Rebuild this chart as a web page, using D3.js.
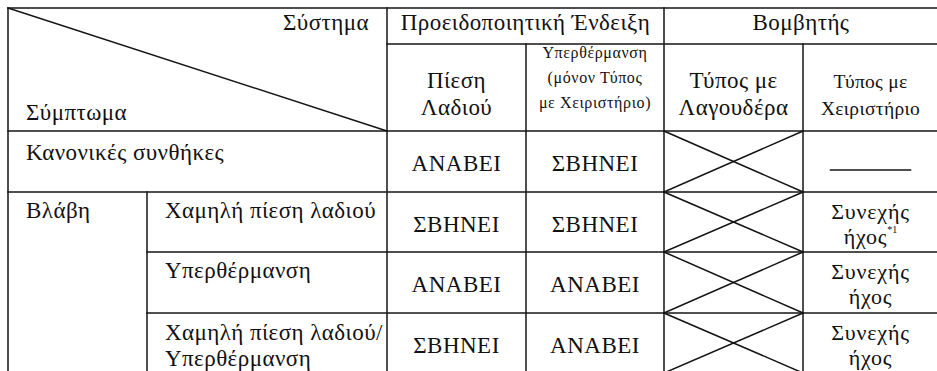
<!DOCTYPE html>
<html>
<head>
<meta charset="utf-8">
<script src="https://cdn.jsdelivr.net/npm/d3@7"></script>
<style>
  html, body { margin: 0; padding: 0; background: #fff; }
  svg { display: block; }
</style>
</head>
<body>
<svg id="chart" width="937" height="371"></svg>
<script>
// ---------- data ----------
const systemLabel = "Σύστημα";
const symptomLabel = "Σύμπτωμα";
const groupHeaders = ["Προειδοποιητική Ένδειξη", "Βομβητής"];
const subHeaders = [
  ["Πίεση", "Λαδιού"],
  ["Υπερθέρμανση", "(μόνον Τύπος", "με Χειριστήριο)"],
  ["Τύπος με", "Λαγουδέρα"],
  ["Τύπος με", "Χειριστήριο"]
];
const symptomGroups = ["Κανονικές συνθήκες", "Βλάβη"];
const symptoms = [
  ["Κανονικές συνθήκες"],
  ["Χαμηλή πίεση λαδιού"],
  ["Υπερθέρμανση"],
  ["Χαμηλή πίεση λαδιού/", "Υπερθέρμανση"]
];
const oilPressureLamp = ["ΑΝΑΒΕΙ", "ΣΒΗΝΕΙ", "ΑΝΑΒΕΙ", "ΣΒΗΝΕΙ"];
const overheatLamp    = ["ΣΒΗΝΕΙ", "ΣΒΗΝΕΙ", "ΑΝΑΒΕΙ", "ΑΝΑΒΕΙ"];
const tillerBuzzer    = ["n/a", "n/a", "n/a", "n/a"];          // crossed-out cells
const handleBuzzer    = [null, ["Συνεχής", "ήχος"], ["Συνεχής", "ήχος"], ["Συνεχής", "ήχος"]];
const handleNotes     = [null, "*1", null, null];

// ---------- font detection (pick a serif face that has Greek glyphs) ----------
function pickFont(cands) {
  const ctx = document.createElement("canvas").getContext("2d");
  const s = "ΑΝΑΒΕΙ Σύστημα Χειριστήριο ΣΒΗΝΕΙ";
  for (const base of ["monospace", "sans-serif"]) {
    ctx.font = "40px " + base;
    const w0 = ctx.measureText(s).width;
    for (const f of cands) {
      ctx.font = "40px '" + f + "', " + base;
      if (Math.abs(ctx.measureText(s).width - w0) > 0.5) return "'" + f + "', serif";
    }
  }
  return "serif";
}
const FONT = pickFont(["Liberation Serif", "Times New Roman", "Tinos", "DejaVu Serif",
                       "Noto Serif", "FreeSerif", "Nimbus Roman", "Noto Serif CJK SC"]);

// ---------- layout ----------
const svg = d3.select("#chart");
const stroke = "#141414", sw = 1.5;

// column edges: left, sub-symptom, system, oil, overheat, tiller, handle, right
const colEdges = [8, 147, 387, 526, 664, 803, 938];
// row edges: top, group header, sub header, normal, low-oil, overheat, both
const rowEdges = [8, 44, 131, 192, 252, 313, 373];
const xCol = i => colEdges[i];
const yRow = i => rowEdges[i];
const mid = (a, b) => (a + b) / 2;

const g = svg.append("g").attr("font-family", FONT).attr("fill", "#111");
function line(x1, y1, x2, y2) {
  g.append("line").attr("x1", x1).attr("y1", y1).attr("x2", x2).attr("y2", y2)
    .attr("stroke", stroke).attr("stroke-width", sw).attr("stroke-linecap", "square");
}
function text(str, x, y, size, anchor, ls) {
  return g.append("text").attr("x", x).attr("y", y).attr("font-size", size)
    .attr("font-family", FONT)
    .attr("letter-spacing", ls || 0)
    .attr("text-anchor", anchor || "start").text(str);
}

const right = colEdges[6] + 2;
// outer top & left
line(xCol(0), yRow(0), right, yRow(0));
line(xCol(0), yRow(0), xCol(0), yRow(6));
// header row dividers
line(xCol(2), yRow(1), right, yRow(1));
line(xCol(0), yRow(2), right, yRow(2));
// body row dividers
line(xCol(0), yRow(3), right, yRow(3));
line(xCol(1), yRow(4), right, yRow(4));
line(xCol(1), yRow(5), right, yRow(5));
// verticals
line(xCol(2), yRow(0), xCol(2), yRow(6));
line(xCol(4), yRow(0), xCol(4), yRow(6));
line(xCol(3), yRow(1), xCol(3), yRow(6));
line(xCol(5), yRow(1), xCol(5), yRow(6));
line(xCol(1), yRow(3), xCol(1), yRow(6));
// diagonal in the corner cell
line(xCol(0), yRow(0), xCol(2), yRow(2));

const F = 23, LS = 0.45;
// corner labels
text(systemLabel, xCol(2) - 18, 30, F, "end", LS);
text(symptomLabel, xCol(0) + 18, 120, F, "start", LS);

// group headers
text(groupHeaders[0], mid(xCol(2), xCol(4)), 30, F, "middle", LS);
text(groupHeaders[1], mid(xCol(4), xCol(6)), 30, F, "middle", LS);

// sub headers
const subCols = [[2, 3], [3, 4], [4, 5], [5, 6]];
const subSizes = [F, 16, F, 19.5];
const subLS = [LS, 0.6, LS, 0.3];
const subBase = [[88, 115], [58, 83, 108], [88, 115], [88, 115]];
subHeaders.forEach((lines, i) => {
  const cx = mid(xCol(subCols[i][0]), xCol(subCols[i][1]));
  lines.forEach((l, j) => text(l, cx, subBase[i][j], subSizes[i], "middle", subLS[i]));
});

// symptom labels
const symLabelBase = [[160], [218], [278], [340, 366]];
symptoms.forEach((lines, i) => {
  const x = i === 0 ? xCol(0) + 18 : xCol(1) + 18;
  lines.forEach((l, j) => text(l, x, symLabelBase[i][j], F, "start", LS));
});
text(symptomGroups[1], xCol(0) + 18, 218, F, "start", LS);

// lamp values
const valueBase = [171, 232, 292, 353];
oilPressureLamp.forEach((v, i) => text(v, mid(xCol(2), xCol(3)), valueBase[i], 23, "middle", 0.5));
overheatLamp.forEach((v, i) => text(v, mid(xCol(3), xCol(4)), valueBase[i], 23, "middle", 0.5));

// crossed cells (tiller type has no buzzer)
tillerBuzzer.forEach((v, i) => {
  const x1 = xCol(4), x2 = xCol(5), y1 = yRow(2 + i), y2 = yRow(3 + i);
  line(x1, y1, x2, y2);
  line(x1, y2, x2, y1);
});

// handle-type buzzer
const cxH = mid(xCol(5), xCol(6));
handleBuzzer.forEach((v, i) => {
  const top = yRow(2 + i);
  if (!v) {
    line(cxH - 40, top + 39, cxH + 40, top + 39);
    return;
  }
  text(v[0], cxH, top + 27, 22, "middle", 0.8);
  const t = text(v[1], cxH, top + 52, 22, "middle", 0.8);
  if (handleNotes[i]) {
    t.append("tspan").attr("font-size", 10).attr("letter-spacing", 0).attr("dy", -11).text(handleNotes[i]);
  }
});
</script>
</body>
</html>
